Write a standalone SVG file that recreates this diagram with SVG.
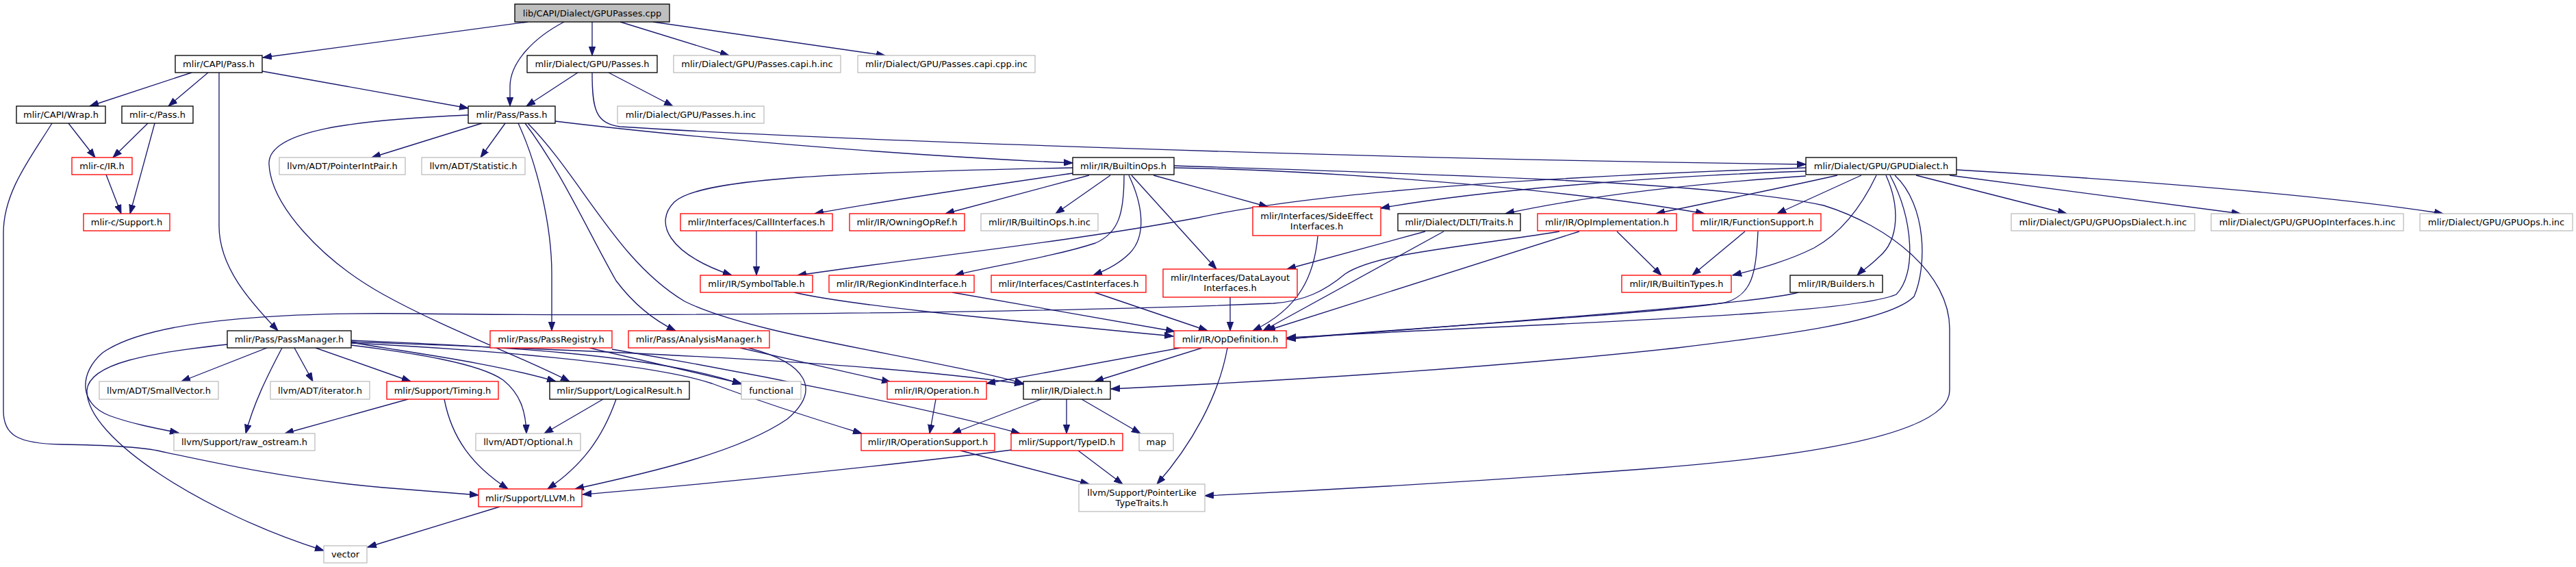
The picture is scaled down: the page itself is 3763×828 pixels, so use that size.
<svg xmlns="http://www.w3.org/2000/svg" width="3763" height="828" viewBox="0 0 3763 828">
<style>
.n rect{fill:#fff;stroke:#000;stroke-width:1.33}
.n.r rect{stroke:#ff0000}
.n.g rect{stroke:#bfbfbf}
.n.root rect{fill:#bfbfbf}
.n text{font-family:"DejaVu Sans","Liberation Sans",sans-serif;font-size:13px;text-anchor:middle;fill:#000}
#edges path{fill:none;stroke:#191970;stroke-width:1.33;marker-end:url(#a)}
</style>
<defs>
<marker id="a" markerWidth="14" markerHeight="10" refX="13" refY="5" orient="auto" markerUnits="userSpaceOnUse"><path d="M0,0.3 L13,5 L0,9.7 z" fill="#191970" stroke="#191970" stroke-width="1"/></marker>
</defs>
<rect width="3763" height="828" fill="#fff"/>
<g id="edges">
<path d="M771,32 L384,84"/>
<path d="M824,32 C780,55 746,90 745,125 L745,155"/>
<path d="M865,32 L865,81"/>
<path d="M906,32 L1065,81"/>
<path d="M954,32 L1293,81"/>
<path d="M280,106 L131,155"/>
<path d="M304,106 L246,155"/>
<path d="M383,104 L684,158"/>
<path d="M320,106 L320,330 C320,390 365,440 406,483"/>
<path d="M100,180 L139,230"/>
<path d="M76,180 C45,230 5,280 5,340 L5,600 C5,635 25,648 90,649 C150,650 200,652 230,658 C300,673 420,700 560,712 L699,723"/>
<path d="M216,180 L165,230"/>
<path d="M226,180 L190,312"/>
<path d="M155,255 L177,312"/>
<path d="M844,106 L769,155"/>
<path d="M889,106 L983,155"/>
<path d="M865,106 C865,160 870,180 906,185 C1200,204 2000,232 2638,240"/>
<path d="M811,177 C1000,200 1300,226 1567,238"/>
<path d="M704,180 L543,230"/>
<path d="M738,180 L702,230"/>
<path d="M684,168 C520,175 390,190 393,240 C396,300 470,380 560,430 C650,480 760,520 832,557"/>
<path d="M757,180 C785,240 806,330 806,400 L806,483"/>
<path d="M767,180 C820,250 860,340 900,410 C930,450 960,470 987,483"/>
<path d="M771,180 C850,260 900,380 1000,440 C1100,490 1350,520 1495,560"/>
<path d="M1567,245 C1200,252 1020,262 985,295 C955,325 975,370 1069,402"/>
<path d="M1567,253 C1450,270 1300,292 1190,312"/>
<path d="M1591,256 L1381,312"/>
<path d="M1622,256 L1542,312"/>
<path d="M1642,256 C1642,310 1635,340 1600,355 C1540,375 1440,390 1395,402"/>
<path d="M1649,256 C1670,300 1675,345 1650,370 C1635,385 1615,395 1597,402"/>
<path d="M1653,256 L1777,393"/>
<path d="M1685,256 L1852,302"/>
<path d="M1715,245 C1900,248 2250,270 2490,312"/>
<path d="M1715,242 C2100,255 2500,265 2664,300 C2760,330 2848,400 2848,480 L2848,570 C2848,640 2600,670 2400,685 C2200,700 1950,715 1760,724"/>
<path d="M2799,256 L3019,312"/>
<path d="M2848,256 L3273,312"/>
<path d="M2858,248 C3100,262 3400,285 3569,312"/>
<path d="M2719,256 L2596,312"/>
<path d="M2741,256 C2720,300 2690,340 2650,362 C2610,382 2570,392 2531,402"/>
<path d="M2755,256 C2775,300 2775,350 2745,375 C2730,390 2720,395 2713,402"/>
<path d="M2761,256 C2795,320 2800,400 2770,430 C2700,460 2300,470 1880,493"/>
<path d="M2768,256 C2815,300 2815,390 2796,433 C2760,470 2600,490 2450,508 C2200,535 1900,555 1623,568"/>
<path d="M2638,245 C2200,260 1900,285 1750,318 C1550,355 1350,375 1165,402"/>
<path d="M2638,250 C2400,258 2150,280 2017,304"/>
<path d="M2638,257 C2450,270 2300,290 2199,312"/>
<path d="M2684,256 C2600,275 2500,295 2419,312"/>
<path d="M2082,338 L1880,393"/>
<path d="M2109,338 L1845,483"/>
<path d="M2307,338 L1850,483"/>
<path d="M1925,345 C1920,400 1900,450 1830,483"/>
<path d="M2278,338 C2130,362 2010,370 1965,400 C1935,425 1905,440 1860,443 C1500,458 900,462 600,458 C330,455 200,480 150,515 C115,545 115,590 160,607 C190,618 225,625 261,632"/>
<path d="M2362,338 L2427,402"/>
<path d="M2549,338 L2472,402"/>
<path d="M2568,338 C2565,400 2560,430 2520,442 C2400,460 2100,475 1880,495"/>
<path d="M2627,427 C2580,440 2400,455 1880,495"/>
<path d="M1160,427 C1250,448 1500,470 1714,491"/>
<path d="M1391,427 L1716,484"/>
<path d="M1599,427 L1764,483"/>
<path d="M1797,434 L1797,483"/>
<path d="M1105,337 L1105,402"/>
<path d="M1724,508 L1441,560"/>
<path d="M1756,508 L1599,557"/>
<path d="M1793,508 C1780,580 1740,650 1690,707"/>
<path d="M1367,583 L1358,633"/>
<path d="M1521,583 L1391,633"/>
<path d="M1558,583 L1558,633"/>
<path d="M1580,583 L1666,633"/>
<path d="M1403,658 L1591,707"/>
<path d="M1575,658 L1640,707"/>
<path d="M1478,657 C1300,680 1000,710 851,722"/>
<path d="M730,740 L537,799"/>
<path d="M390,508 L265,557"/>
<path d="M412,508 C390,550 370,590 359,633"/>
<path d="M430,508 L457,557"/>
<path d="M461,508 L600,557"/>
<path d="M332,503 C220,515 130,530 127,570 C125,640 300,750 473,804"/>
<path d="M513,500 C600,515 720,530 812,557"/>
<path d="M513,504 C600,515 700,530 735,555 C760,575 768,600 769,633"/>
<path d="M513,497 C700,505 950,515 1083,561"/>
<path d="M513,501 C700,510 950,530 1040,560 C1120,590 1200,615 1259,633"/>
<path d="M513,499 C800,510 1250,525 1495,561"/>
<path d="M861,508 L1083,560"/>
<path d="M894,510 C1100,545 1350,595 1490,633"/>
<path d="M1081,508 L1301,558"/>
<path d="M1093,508 C1180,530 1200,570 1150,612 C1080,660 950,690 840,714"/>
<path d="M596,583 L416,633"/>
<path d="M649,583 C660,640 690,680 742,714"/>
<path d="M881,583 L795,633"/>
<path d="M900,583 C880,640 850,680 800,714"/>
</g>
<g id="n0" class="n root"><rect x="752" y="6" width="226" height="26"/><text x="865" y="23.5">lib/CAPI/Dialect/GPUPasses.cpp</text></g>
<g id="n1" class="n"><rect x="256" y="81" width="127" height="25"/><text x="319.5" y="98">mlir/CAPI/Pass.h</text></g>
<g id="n2" class="n"><rect x="770" y="81" width="190" height="25"/><text x="865" y="98">mlir/Dialect/GPU/Passes.h</text></g>
<g id="n3" class="n g"><rect x="984" y="81" width="244" height="25"/><text x="1106" y="98">mlir/Dialect/GPU/Passes.capi.h.inc</text></g>
<g id="n4" class="n g"><rect x="1253" y="81" width="259" height="25"/><text x="1382.5" y="98">mlir/Dialect/GPU/Passes.capi.cpp.inc</text></g>
<g id="n5" class="n"><rect x="24" y="155" width="130" height="25"/><text x="89" y="172">mlir/CAPI/Wrap.h</text></g>
<g id="n6" class="n"><rect x="178" y="155" width="104" height="25"/><text x="230" y="172">mlir-c/Pass.h</text></g>
<g id="n7" class="n"><rect x="684" y="155" width="127" height="25"/><text x="747.5" y="172">mlir/Pass/Pass.h</text></g>
<g id="n8" class="n g"><rect x="902" y="155" width="214" height="25"/><text x="1009" y="172">mlir/Dialect/GPU/Passes.h.inc</text></g>
<g id="n9" class="n r"><rect x="105" y="230" width="88" height="25"/><text x="149" y="247">mlir-c/IR.h</text></g>
<g id="n10" class="n g"><rect x="408" y="230" width="184" height="25"/><text x="500" y="247">llvm/ADT/PointerIntPair.h</text></g>
<g id="n11" class="n g"><rect x="616" y="230" width="151" height="25"/><text x="691.5" y="247">llvm/ADT/Statistic.h</text></g>
<g id="n12" class="n"><rect x="1567" y="230" width="148" height="25"/><text x="1641" y="247">mlir/IR/BuiltinOps.h</text></g>
<g id="n13" class="n"><rect x="2638" y="230" width="220" height="25"/><text x="2748" y="247">mlir/Dialect/GPU/GPUDialect.h</text></g>
<g id="n14" class="n r"><rect x="122" y="312" width="126" height="25"/><text x="185" y="329">mlir-c/Support.h</text></g>
<g id="n15" class="n r"><rect x="994" y="312" width="222" height="25"/><text x="1105" y="329">mlir/Interfaces/CallInterfaces.h</text></g>
<g id="n16" class="n r"><rect x="1241" y="312" width="168" height="25"/><text x="1325" y="329">mlir/IR/OwningOpRef.h</text></g>
<g id="n17" class="n g"><rect x="1433" y="312" width="171" height="25"/><text x="1518.5" y="329">mlir/IR/BuiltinOps.h.inc</text></g>
<g id="n18" class="n r"><rect x="1830" y="302" width="187" height="42"/><text x="1923.5" y="320">mlir/Interfaces/SideEffect</text><text x="1923.5" y="335">Interfaces.h</text></g>
<g id="n19" class="n"><rect x="2042" y="312" width="179" height="25"/><text x="2131.5" y="329">mlir/Dialect/DLTI/Traits.h</text></g>
<g id="n20" class="n r"><rect x="2246" y="312" width="203" height="25"/><text x="2347.5" y="329">mlir/IR/OpImplementation.h</text></g>
<g id="n21" class="n r"><rect x="2473" y="312" width="187" height="25"/><text x="2566.5" y="329">mlir/IR/FunctionSupport.h</text></g>
<g id="n22" class="n g"><rect x="2938" y="312" width="268" height="25"/><text x="3072" y="329">mlir/Dialect/GPU/GPUOpsDialect.h.inc</text></g>
<g id="n23" class="n g"><rect x="3230" y="312" width="281" height="25"/><text x="3370.5" y="329">mlir/Dialect/GPU/GPUOpInterfaces.h.inc</text></g>
<g id="n24" class="n g"><rect x="3535" y="312" width="223" height="25"/><text x="3646.5" y="329">mlir/Dialect/GPU/GPUOps.h.inc</text></g>
<g id="n25" class="n r"><rect x="1023" y="402" width="164" height="25"/><text x="1105" y="419">mlir/IR/SymbolTable.h</text></g>
<g id="n26" class="n r"><rect x="1211" y="402" width="212" height="25"/><text x="1317" y="419">mlir/IR/RegionKindInterface.h</text></g>
<g id="n27" class="n r"><rect x="1448" y="402" width="226" height="25"/><text x="1561" y="419">mlir/Interfaces/CastInterfaces.h</text></g>
<g id="n28" class="n r"><rect x="1699" y="393" width="196" height="41"/><text x="1797" y="410">mlir/Interfaces/DataLayout</text><text x="1797" y="425">Interfaces.h</text></g>
<g id="n29" class="n r"><rect x="2369" y="402" width="160" height="25"/><text x="2449" y="419">mlir/IR/BuiltinTypes.h</text></g>
<g id="n30" class="n"><rect x="2615" y="402" width="135" height="25"/><text x="2682.5" y="419">mlir/IR/Builders.h</text></g>
<g id="n31" class="n"><rect x="332" y="483" width="181" height="25"/><text x="422.5" y="500">mlir/Pass/PassManager.h</text></g>
<g id="n32" class="n r"><rect x="716" y="483" width="178" height="25"/><text x="805" y="500">mlir/Pass/PassRegistry.h</text></g>
<g id="n33" class="n r"><rect x="918" y="483" width="206" height="25"/><text x="1021" y="500">mlir/Pass/AnalysisManager.h</text></g>
<g id="n34" class="n r"><rect x="1715" y="483" width="164" height="25"/><text x="1797" y="500">mlir/IR/OpDefinition.h</text></g>
<g id="n35" class="n g"><rect x="145" y="557" width="174" height="26"/><text x="232" y="574.5">llvm/ADT/SmallVector.h</text></g>
<g id="n36" class="n g"><rect x="395" y="557" width="145" height="26"/><text x="467.5" y="574.5">llvm/ADT/iterator.h</text></g>
<g id="n37" class="n r"><rect x="565" y="557" width="163" height="26"/><text x="646.5" y="574.5">mlir/Support/Timing.h</text></g>
<g id="n38" class="n"><rect x="803" y="557" width="204" height="26"/><text x="905" y="574.5">mlir/Support/LogicalResult.h</text></g>
<g id="n39" class="n g"><rect x="1083" y="557" width="87" height="26"/><text x="1126.5" y="574.5">functional</text></g>
<g id="n40" class="n r"><rect x="1296" y="557" width="145" height="26"/><text x="1368.5" y="574.5">mlir/IR/Operation.h</text></g>
<g id="n41" class="n"><rect x="1495" y="557" width="127" height="26"/><text x="1558.5" y="574.5">mlir/IR/Dialect.h</text></g>
<g id="n42" class="n g"><rect x="254" y="633" width="206" height="25"/><text x="357" y="650">llvm/Support/raw_ostream.h</text></g>
<g id="n43" class="n g"><rect x="695" y="633" width="153" height="25"/><text x="771.5" y="650">llvm/ADT/Optional.h</text></g>
<g id="n44" class="n r"><rect x="1258" y="633" width="195" height="25"/><text x="1355.5" y="650">mlir/IR/OperationSupport.h</text></g>
<g id="n45" class="n r"><rect x="1477" y="633" width="163" height="25"/><text x="1558.5" y="650">mlir/Support/TypeID.h</text></g>
<g id="n46" class="n g"><rect x="1664" y="633" width="50" height="25"/><text x="1689" y="650">map</text></g>
<g id="n47" class="n r"><rect x="699" y="714" width="151" height="26"/><text x="774.5" y="731.5">mlir/Support/LLVM.h</text></g>
<g id="n48" class="n g"><rect x="1576" y="707" width="184" height="40"/><text x="1668" y="724">llvm/Support/PointerLike</text><text x="1668" y="739">TypeTraits.h</text></g>
<g id="n49" class="n g"><rect x="473" y="797" width="63" height="25"/><text x="504.5" y="814">vector</text></g>
</svg>
